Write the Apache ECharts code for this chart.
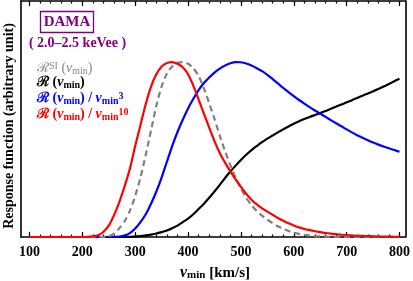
<!DOCTYPE html>
<html><head><meta charset="utf-8">
<script src="https://cdn.jsdelivr.net/npm/echarts@6/dist/echarts.min.js"></script>
<style>html,body{margin:0;padding:0;background:#fff}#c{width:413px;height:281px}</style>
</head><body><div id="c"></div>
<script>
// v_min grid (km/s), step 10
const vmin = [100,110,120,130,140,150,160,170,180,190,200,210,220,230,240,250,260,270,280,290,300,310,320,330,340,350,360,370,380,390,400,410,420,430,440,450,460,470,480,490,500,510,520,530,540,550,560,570,580,590,600,610,620,630,640,650,660,670,680,690,700,710,720,730,740,750,760,770,780,790,800];
// R^SI(v_min) gray dashed
const rSI = [0,0,0,0,0,0,0,0,0,0,0,0,0,0,
  0,0.004,0.02,0.05,0.09,0.15,
  0.235,0.34,0.47,0.61,0.75,0.86,0.935,0.975,0.995,1.0,
  0.99,0.965,0.92,0.85,0.765,0.675,0.58,0.49,0.41,0.338,
  0.277,0.225,0.182,0.148,0.122,0.099,0.079,0.061,0.046,0.034,
  0.025,0.018,0.012,0.008,0.005,0.003,0.002,0.001,0.0005,0,
  0,0,0,0,0,0,0,0,0,0,0];
// R(v_min) black
const rBlack = [0,0,0,0,0,0,0,0,0,0,0,0,0,0,0,0,0,0,
  0,0.001,
  0.003,0.005,0.009,0.014,0.02,0.028,0.037,0.05,0.065,0.085,
  0.105,0.13,0.16,0.19,0.224,0.26,0.298,0.337,0.374,0.408,
  0.44,0.47,0.497,0.52,0.542,0.562,0.58,0.598,0.615,0.632,
  0.647,0.661,0.674,0.686,0.697,0.708,0.72,0.733,0.745,0.757,
  0.77,0.782,0.795,0.808,0.82,0.833,0.846,0.86,0.875,0.89,
  0.905];
// R(v_min)/v_min^3 blue
const rBlue = [0,0,0,0,0,0,0,0,0,0,0,0,0,0,0,0,
  0,0.002,0.008,0.022,
  0.048,0.085,0.13,0.19,0.26,0.34,0.43,0.52,0.6,0.67,
  0.735,0.79,0.84,0.88,0.912,0.94,0.962,0.98,0.993,1.0,
  0.999,0.992,0.98,0.965,0.948,0.927,0.903,0.878,0.852,0.828,
  0.805,0.783,0.762,0.742,0.723,0.705,0.687,0.668,0.65,0.633,
  0.615,0.598,0.582,0.567,0.553,0.54,0.528,0.517,0.507,0.497,
  0.487];
// R(v_min)/v_min^10 red
const rRed = [0,0,0,0,0,0,0,0,0,0,
  0,0.001,0.004,0.01,0.03,0.065,0.125,0.2,0.29,0.39,
  0.52,0.64,0.76,0.86,0.93,0.975,0.995,1.0,0.99,0.97,
  0.93,0.865,0.785,0.705,0.625,0.548,0.48,0.425,0.375,0.33,
  0.287,0.247,0.213,0.186,0.164,0.145,0.127,0.109,0.093,0.078,
  0.066,0.055,0.046,0.039,0.033,0.028,0.023,0.019,0.016,0.013,
  0.011,0.009,0.007,0.006,0.005,0.004,0.003,0.0025,0.002,0.0015,
  0.001];
// tick labels
const xMajor = [100,200,300,400,500,600,700,800];
const xMinor = [100,120,140,160,180,200,220,240,260,280,300,320,340,360,380,400,420,440,460,480,500,520,540,560,580,600,620,640,660,680,700,720,740,760,780,800];

const pair = arr => vmin.map((v,i)=>[v,arr[i]]);
const SERIF = '"Liberation Serif","DejaVu Serif",serif';
const XMIN = 84, XMAX = 811;

function xAx(pos, ticks, len, showLine, showLabel){
  return {type:'value', position:pos, min:XMIN, max:XMAX, gridIndex:0,
    axisLine:{show:showLine, onZero:false, lineStyle:{color:'#000', width:1.6}},
    axisTick:{show:true, inside:true, length:len, customValues:ticks, lineStyle:{color:'#000', width:1.2}},
    axisLabel:{show:showLabel, customValues:ticks, margin:8, color:'#000', fontFamily:SERIF, fontWeight:'bold', fontSize:14},
    splitLine:{show:false}};
}
const chart = echarts.init(document.getElementById('c'), null, {renderer:'canvas'});
const rich = {
  n:{fontFamily:SERIF, fontWeight:'bold', fontSize:14, lineHeight:15, verticalAlign:'middle'},
  i:{fontFamily:SERIF, fontWeight:'bold', fontStyle:'italic', fontSize:14, lineHeight:15, verticalAlign:'middle'},
  s:{fontFamily:SERIF, fontWeight:'bold', fontSize:10, lineHeight:8, verticalAlign:'bottom'},
  p:{fontFamily:SERIF, fontWeight:'bold', fontSize:10, lineHeight:9, verticalAlign:'top'},
  gn:{fontFamily:SERIF, fontSize:14, lineHeight:15, verticalAlign:'middle'},
  gi:{fontFamily:SERIF, fontStyle:'italic', fontSize:14, lineHeight:15, verticalAlign:'middle'},
  gs:{fontFamily:SERIF, fontSize:10, lineHeight:8, verticalAlign:'bottom'},
  gp:{fontFamily:SERIF, fontSize:10, lineHeight:9, verticalAlign:'top'}
};
const lineSeries = (arr, color, z, dash) => ({type:'line', data:pair(arr), showSymbol:false, smooth:0.25,
  lineStyle:{color:color, width:2.2, type:dash||'solid'}, z:z});
chart.setOption({
  animation:false,
  backgroundColor:'#fff',
  grid:{left:21, right:5, top:1, bottom:44, containLabel:false},
  xAxis:[ xAx('bottom', xMajor, 5, true, true), xAx('top', xMajor, 5, true, false),
          xAx('bottom', xMinor, 2.5, false, false), xAx('top', xMinor, 2.5, false, false) ],
  yAxis:[
    {type:'value', position:'left', min:0, max:1.349, axisLine:{show:true, lineStyle:{color:'#000', width:1.6}}, axisTick:{show:false}, axisLabel:{show:false}, splitLine:{show:false}},
    {type:'value', position:'right', min:0, max:1.349, axisLine:{show:true, lineStyle:{color:'#000', width:1.6}}, axisTick:{show:false}, axisLabel:{show:false}, splitLine:{show:false}}
  ],
  series:[
    lineSeries(rBlack, '#000000', 2),
    lineSeries(rBlue, '#0000ff', 3),
    lineSeries(rSI, '#808080', 4, [6,4]),
    lineSeries(rRed, '#ff0000', 5)
  ],
  graphic:[
    {type:'rect', shape:{x:40.5, y:11.5, width:53, height:21}, style:{fill:'#fff', stroke:'#800080', lineWidth:1.3}, z:10},
    {type:'text', x:67, y:22, z:11, style:{text:'DAMA', fill:'#800080', font:'bold 15px '+SERIF, textAlign:'center', textVerticalAlign:'middle'}},
    {type:'text', x:77.5, y:43.5, z:11, style:{text:'( 2.0\u20132.5 keVee )', fill:'#800080', font:'bold 14px '+SERIF, textAlign:'center', textVerticalAlign:'middle'}},
    {type:'text', x:37, y:61, z:11, style:{text:'{gn|\u211B}{gp|SI}{gn| (}{gi|v}{gs|min}{gn|)}', fill:'#888888', rich:rich}},
    {type:'text', x:37, y:75, z:11, style:{text:'{n|\u211B (}{i|v}{s|min}{n|)}', fill:'#000', rich:rich}},
    {type:'text', x:37, y:91, z:11, style:{text:'{n|\u211B (}{i|v}{s|min}{n|) / }{i|v}{s|min}{p|3}', fill:'#0000ff', rich:rich}},
    {type:'text', x:37, y:107, z:11, style:{text:'{n|\u211B (}{i|v}{s|min}{n|) / }{i|v}{s|min}{p|10}', fill:'#ff0000', rich:rich}},
    {type:'text', x:215, y:273, z:11, style:{text:'{i|v}{s|min}{n| [km/s]}', fill:'#000', textAlign:'center', textVerticalAlign:'middle',
      rich:{n:{fontFamily:SERIF, fontWeight:'bold', fontSize:15, lineHeight:16, verticalAlign:'middle'}, i:{fontFamily:SERIF, fontWeight:'bold', fontStyle:'italic', fontSize:16, lineHeight:16, verticalAlign:'middle'}, s:{fontFamily:SERIF, fontWeight:'bold', fontSize:11, lineHeight:8, verticalAlign:'bottom'}}}},
    {type:'text', x:9, y:126, rotation:Math.PI/2, z:11, style:{text:'Response function (arbitrary unit)', fill:'#000', font:'bold 14px '+SERIF, textAlign:'center', textVerticalAlign:'middle'}}
  ]
});
</script></body></html>
